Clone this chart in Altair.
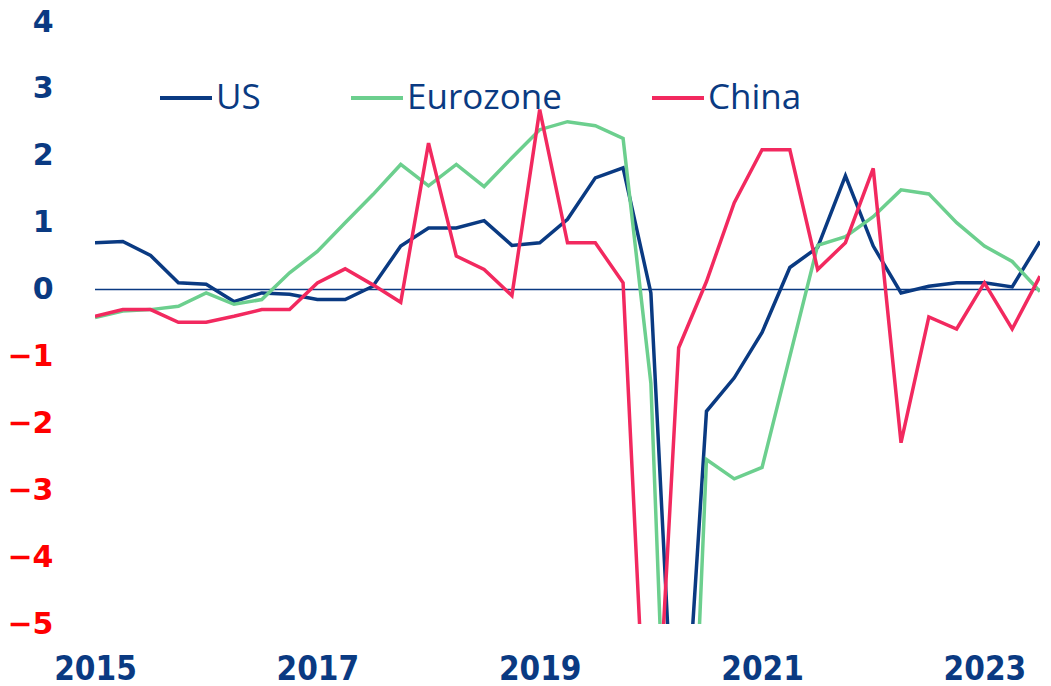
import altair as alt
import pandas as pd

start_year = 2015
series_names = ["US", "Eurozone", "China"]
series_colors = ["#0A3A82", "#6CCF8E", "#F2295F"]

us = [0.70, 0.72, 0.51, 0.10, 0.08, -0.18, -0.05, -0.07, -0.15, -0.15,
      0.05, 0.65, 0.92, 0.92, 1.03, 0.66, 0.70, 1.05, 1.67, 1.82,
      -0.05, -8.3, -1.82, -1.32, -0.64, 0.33, 0.63, 1.70, 0.65, -0.05,
      0.05, 0.10, 0.10, 0.04, 0.72]
eurozone = [-0.42, -0.32, -0.30, -0.25, -0.05, -0.22, -0.15, 0.25, 0.57, 1.00,
            1.42, 1.87, 1.55, 1.87, 1.54, 1.97, 2.39, 2.51, 2.45, 2.26,
            -1.40, -12.4, -2.54, -2.83, -2.66, -1.00, 0.66, 0.79, 1.09, 1.49,
            1.43, 1.00, 0.65, 0.42, -0.03]
china = [-0.40, -0.30, -0.30, -0.49, -0.49, -0.40, -0.30, -0.30, 0.10, 0.31,
         0.07, -0.19, 2.19, 0.50, 0.30, -0.09, 2.69, 0.70, 0.70, 0.10,
         -8.5, -0.87, 0.12, 1.30, 2.09, 2.09, 0.30, 0.70, 1.81, -2.29,
         -0.41, -0.59, 0.10, -0.59, 0.20]
year_ticks = [2015, 2017, 2019, 2021, 2023]
y_ticks = [4, 3, 2, 1, 0, -1, -2, -3, -4, -5]

rows = []
for name, vals in zip(series_names, [us, eurozone, china]):
    for i, v in enumerate(vals):
        rows.append({"t": start_year + i * 0.25, "value": v, "series": name})
df = pd.DataFrame(rows)

BLUE = "#0A3A82"

x_enc = alt.X("t:Q",
              scale=alt.Scale(domain=[2015, 2023.5], nice=False, zero=False),
              axis=alt.Axis(values=year_ticks, format="d", title=None, grid=False,
                            domain=False, ticks=False, labelPadding=29,
                            labelFont="DejaVu Sans Condensed", labelFontWeight="bold",
                            labelFontSize=33, labelColor=BLUE, labelFlush=False))
y_enc = alt.Y("value:Q",
              scale=alt.Scale(domain=[-5, 4], nice=False, zero=False),
              axis=alt.Axis(values=y_ticks, format="d", title=None, grid=False,
                            domain=False, ticks=False, labelPadding=42,
                            labelFont="DejaVu Sans", labelFontWeight="bold",
                            labelFontSize=30,
                            labelColor={"expr": "datum.value < 0 ? '#FF0000' : '#0A3A82'"}))

lines = alt.Chart(df).mark_line(clip=True, strokeWidth=3.5).encode(
    x=x_enc,
    y=y_enc,
    color=alt.Color("series:N",
                    scale=alt.Scale(domain=series_names, range=series_colors),
                    sort=series_names,
                    legend=alt.Legend(orient="none", legendX=63, legendY=48,
                                      direction="horizontal", title=None,
                                      symbolType="stroke", symbolSize=2704,
                                      symbolStrokeWidth=4, labelFont="Open Sans",
                                      labelFontSize=35, labelColor=BLUE,
                                      labelOffset=2, columnPadding=82,
                                      labelLimit=400)),
)

zero = alt.Chart(pd.DataFrame({"y": [0]})).mark_rule(color=BLUE, strokeWidth=1.5).encode(
    y=alt.Y("y:Q")
)

chart = alt.layer(zero, lines).properties(
    width=945, height=602,
    autosize=alt.AutoSizeParams(type="none"),
    padding={"left": 87, "top": 14, "right": 2, "bottom": 60},
).configure_view(stroke=None)

chart.save("out.html", embed_options={"renderer": "svg", "actions": False})
